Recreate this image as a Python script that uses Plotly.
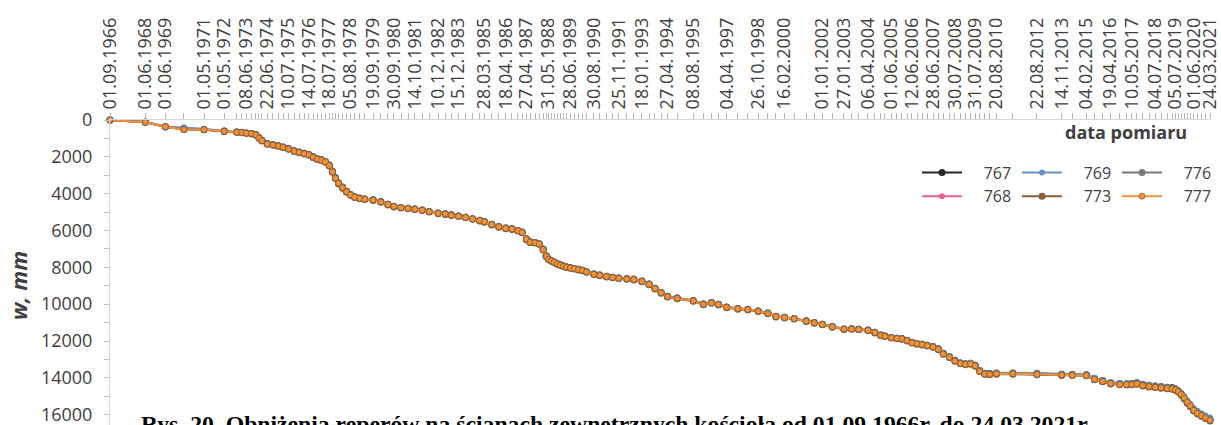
import plotly.graph_objects as go
from datetime import datetime

# Measurement dates (ISO) shared by all benchmarks
DATES = [
    "1966-09-01", "1968-06-01", "1969-06-01", "1970-05-01", "1971-05-01", "1972-05-01",
    "1972-12-15", "1973-03-15", "1973-06-08", "1973-09-12", "1973-11-25", "1974-01-20", "1974-03-15",
    "1974-06-22", "1974-10-01", "1975-01-05", "1975-04-02", "1975-07-10", "1975-10-20",
    "1976-01-20", "1976-04-20", "1976-07-14", "1976-10-01", "1976-12-12", "1977-02-25", "1977-05-08",
    "1977-07-18", "1977-09-12", "1977-11-06", "1978-01-01", "1978-03-15", "1978-05-27", "1978-08-05",
    "1978-10-20", "1979-01-20", "1979-04-20", "1979-09-19",
    "1980-02-06", "1980-06-14", "1980-09-30", "1981-02-06", "1981-06-14", "1981-10-14", "1982-02-24",
    "1982-07-01", "1982-12-10", "1983-04-20", "1983-08-08", "1983-12-15", "1984-04-20", "1984-08-25",
    "1985-01-02", "1985-03-28", "1985-08-08", "1985-12-12", "1986-04-18", "1986-08-08", "1986-11-25",
    "1987-02-08", "1987-04-27", "1987-07-02", "1987-10-01", "1987-12-15", "1988-02-25", "1988-04-20",
    "1988-05-31", "1988-07-20", "1988-09-12", "1988-11-06", "1989-01-02", "1989-02-25", "1989-04-20",
    "1989-06-28", "1989-09-12", "1989-11-25",
    "1990-02-06", "1990-04-20", "1990-08-30", "1990-12-15", "1991-04-20", "1991-08-08", "1991-11-25",
    "1992-04-20", "1992-08-25", "1993-01-18", "1993-05-27", "1993-09-12", "1994-01-02", "1994-04-27",
    "1994-10-20", "1995-08-08",
    "1996-02-06", "1996-07-01", "1996-11-06", "1997-04-04", "1997-10-20", "1998-04-20", "1998-10-26",
    "1999-04-20", "1999-09-12", "2000-02-16", "2000-08-08",
    "2001-03-15", "2001-08-08", "2002-01-01", "2002-07-01", "2003-01-27", "2003-06-14", "2003-10-20",
    "2004-04-06", "2004-08-08", "2004-11-25", "2005-02-06", "2005-06-01",
    "2005-09-12", "2005-12-12", "2006-03-15", "2006-06-12", "2006-09-12", "2006-12-12", "2007-03-15",
    "2007-06-28", "2007-10-01", "2008-01-01", "2008-04-20", "2008-07-30", "2008-11-06", "2009-02-06",
    "2009-05-08", "2009-07-31", "2009-10-20", "2010-01-20", "2010-04-20", "2010-08-20",
    "2011-06-14", "2012-08-22", "2013-11-14", "2014-05-27", "2015-02-04", "2015-07-01", "2015-11-25",
    "2016-04-19", "2016-10-01", "2017-02-06", "2017-05-10", "2017-08-08",
    "2017-11-25", "2018-03-15", "2018-07-04", "2018-10-20", "2019-02-06", "2019-05-08", "2019-07-05",
    "2019-08-25", "2019-10-20", "2019-12-12", "2020-02-06", "2020-04-01", "2020-06-01", "2020-08-08",
    "2020-10-20", "2021-01-02", "2021-03-24",
]

# Subsidence w [mm] of each benchmark
W_767 = [
    0, 110, 360, 480, 510, 600,
    650, 670, 700, 735, 790, 950, 1100, 1280, 1340, 1395, 1465, 1550, 1670,
    1740, 1810, 1870, 2000, 2100, 2165, 2250, 2440, 2780, 3120, 3410, 3640, 3870, 4040, 4170, 4240, 4285, 4330,
    4430, 4570, 4680, 4745, 4785, 4830, 4885, 4965, 5055, 5095, 5150, 5210, 5275, 5355,
    5445, 5515, 5660, 5785, 5865, 5905, 5995, 6085, 6450, 6610, 6650, 6715, 7000, 7370, 7540, 7635, 7705, 7795,
    7865, 7925, 7970, 8015, 8060, 8105,
    8155, 8235, 8355, 8415, 8485, 8535, 8575, 8615, 8650, 8745, 8900, 9130, 9360, 9575, 9665, 9805,
    9990, 9915, 10005, 10155, 10235, 10275, 10365, 10485, 10650, 10715, 10775,
    10905, 10995, 11085, 11215, 11345, 11330, 11355, 11405, 11525, 11670, 11725, 11805,
    11845, 11870, 11960, 12070, 12130, 12170, 12230, 12300, 12425, 12670, 12850, 13050, 13190, 13240,
    13210, 13320, 13600, 13750, 13770, 13740,
    13740, 13770, 13810, 13815, 13830, 14030, 14140, 14260, 14310, 14315, 14300, 14270,
    14350, 14400, 14440, 14470, 14505, 14530, 14590, 14700, 14880, 15100, 15340, 15530, 15760, 15910,
    16030, 16140, 16260,
]
W_768 = [
    0, 120, 370, 500, 520, 610,
    660, 680, 715, 745, 800, 970, 1120, 1300, 1360, 1410, 1480, 1570, 1690,
    1760, 1830, 1890, 2020, 2120, 2185, 2270, 2470, 2810, 3150, 3440, 3670, 3900, 4070, 4190, 4260, 4300, 4345,
    4450, 4590, 4700, 4760, 4800, 4845, 4900, 4980, 5070, 5110, 5165, 5225, 5290, 5370,
    5460, 5530, 5675, 5800, 5880, 5920, 6010, 6100, 6480, 6630, 6665, 6730, 7030, 7400, 7560, 7650, 7720, 7810,
    7880, 7940, 7985, 8030, 8075, 8120,
    8170, 8250, 8370, 8430, 8500, 8550, 8590, 8610, 8590, 8760, 8920, 9150, 9380, 9590, 9680, 9820,
    10010, 9930, 10020, 10170, 10250, 10290, 10380, 10500, 10670, 10730, 10790,
    10920, 11010, 11100, 11230, 11360, 11345, 11370, 11420, 11540, 11690, 11740, 11820,
    11860, 11885, 11980, 12090, 12150, 12190, 12250, 12320, 12450, 12700, 12880, 13080, 13220, 13270,
    13240, 13350, 13640, 13790, 13810, 13780,
    13780, 13810, 13850, 13855, 13870, 14080, 14190, 14310, 14360, 14365, 14360, 14330,
    14420, 14470, 14510, 14540, 14575, 14600, 14650, 14740, 14900, 15100, 15330, 15520, 15760, 15920,
    16050, 16170, 16300,
]
W_769 = [
    0, 110, 350, 400, 470, 600,
    655, 675, 710, 740, 795, 965, 1115, 1295, 1355, 1405, 1475, 1565, 1685,
    1755, 1825, 1885, 2015, 2115, 2180, 2265, 2465, 2805, 3145, 3435, 3665, 3895, 4065, 4185, 4255, 4295, 4340,
    4445, 4585, 4695, 4755, 4795, 4840, 4895, 4975, 5065, 5105, 5160, 5220, 5285, 5365,
    5455, 5525, 5670, 5795, 5875, 5915, 6005, 6095, 6475, 6625, 6660, 6725, 7025, 7395, 7555, 7645, 7715, 7805,
    7875, 7935, 7980, 8025, 8070, 8115,
    8165, 8245, 8365, 8425, 8495, 8545, 8585, 8625, 8660, 8755, 8915, 9145, 9375, 9585, 9675, 9815,
    10000, 9920, 10010, 10160, 10240, 10280, 10370, 10490, 10660, 10720, 10780,
    10910, 11000, 11090, 11220, 11350, 11335, 11360, 11410, 11525, 11675, 11725, 11800,
    11840, 11860, 11950, 12060, 12110, 12150, 12200, 12270, 12390, 12640, 12820, 13020, 13160, 13210,
    13180, 13290, 13580, 13730, 13750, 13720,
    13720, 13750, 13790, 13790, 13800, 14000, 14110, 14230, 14280, 14285, 14280, 14250,
    14340, 14390, 14430, 14460, 14495, 14520, 14570, 14660, 14810, 15000, 15220, 15410, 15640, 15790,
    15920, 16040, 16150,
]
W_773 = [
    0, 125, 380, 520, 530, 620,
    670, 690, 725, 760, 815, 990, 1140, 1320, 1375, 1425, 1495, 1590, 1710,
    1780, 1850, 1910, 2045, 2140, 2205, 2295, 2500, 2840, 3180, 3470, 3700, 3925, 4090, 4210, 4280, 4320, 4365,
    4470, 4610, 4720, 4780, 4820, 4865, 4920, 5000, 5090, 5130, 5185, 5245, 5310, 5390,
    5480, 5550, 5695, 5820, 5900, 5940, 6030, 6120, 6500, 6650, 6685, 6750, 7055, 7425, 7580, 7670, 7740, 7830,
    7900, 7960, 8005, 8050, 8095, 8140,
    8190, 8270, 8390, 8450, 8520, 8570, 8610, 8650, 8685, 8780, 8940, 9170, 9400, 9610, 9700, 9840,
    10030, 9950, 10040, 10190, 10270, 10310, 10400, 10520, 10690, 10750, 10810,
    10940, 11030, 11120, 11250, 11380, 11365, 11390, 11440, 11560, 11710, 11760, 11840,
    11880, 11905, 12000, 12110, 12170, 12210, 12270, 12340, 12470, 12720, 12900, 13100, 13240, 13290,
    13260, 13370, 13660, 13810, 13830, 13800,
    13800, 13830, 13870, 13875, 13890, 14100, 14210, 14330, 14380, 14385, 14380, 14350,
    14440, 14490, 14530, 14560, 14595, 14620, 14670, 14770, 14940, 15150, 15380, 15570, 15800, 15960,
    16090, 16210, 16340,
]
W_776 = [
    0, 115, 365, 500, 515, 605,
    655, 675, 710, 740, 795, 960, 1110, 1290, 1350, 1400, 1470, 1560, 1680,
    1750, 1820, 1880, 2010, 2110, 2175, 2260, 2455, 2795, 3135, 3425, 3655, 3885, 4055, 4180, 4250, 4290, 4335,
    4440, 4580, 4690, 4750, 4790, 4835, 4890, 4970, 5060, 5100, 5155, 5215, 5280, 5360,
    5450, 5520, 5665, 5790, 5870, 5910, 6000, 6090, 6465, 6620, 6655, 6720, 7015, 7385, 7550, 7640, 7710, 7800,
    7870, 7930, 7975, 8020, 8065, 8110,
    8160, 8240, 8360, 8420, 8490, 8540, 8580, 8620, 8655, 8750, 8910, 9140, 9370, 9580, 9670, 9810,
    9995, 9920, 10010, 10160, 10240, 10280, 10370, 10490, 10660, 10720, 10780,
    10910, 11000, 11090, 11220, 11350, 11335, 11360, 11410, 11530, 11680, 11730, 11810,
    11850, 11875, 11970, 12080, 12140, 12180, 12240, 12310, 12440, 12690, 12870, 13070, 13210, 13260,
    13230, 13340, 13630, 13780, 13800, 13770,
    13770, 13800, 13840, 13845, 13860, 14060, 14170, 14290, 14340, 14345, 14310, 14300,
    14370, 14420, 14460, 14490, 14525, 14550, 14610, 14720, 14900, 15120, 15360, 15550, 15780, 15930,
    16060, 16180, 16290,
]
W_777 = [
    0, 120, 370, 510, 520, 610,
    660, 680, 715, 745, 800, 970, 1120, 1300, 1360, 1410, 1480, 1570, 1690,
    1760, 1830, 1890, 2020, 2120, 2185, 2270, 2470, 2810, 3150, 3440, 3670, 3900, 4070, 4190, 4260, 4300, 4345,
    4450, 4590, 4700, 4760, 4800, 4845, 4900, 4980, 5070, 5110, 5165, 5225, 5290, 5370,
    5460, 5530, 5675, 5800, 5880, 5920, 6010, 6100, 6480, 6630, 6665, 6730, 7030, 7400, 7560, 7650, 7720, 7810,
    7880, 7940, 7985, 8030, 8075, 8120,
    8170, 8250, 8370, 8430, 8500, 8550, 8590, 8630, 8665, 8760, 8920, 9150, 9380, 9590, 9680, 9820,
    10010, 9930, 10020, 10170, 10250, 10290, 10380, 10500, 10670, 10730, 10790,
    10920, 11010, 11100, 11230, 11360, 11345, 11370, 11420, 11540, 11690, 11740, 11820,
    11860, 11885, 11980, 12090, 12150, 12190, 12250, 12320, 12450, 12700, 12880, 13080, 13220, 13270,
    13240, 13350, 13640, 13790, 13810, 13780,
    13780, 13810, 13850, 13855, 13870, 14080, 14190, 14310, 14360, 14365, 14360, 14330,
    14420, 14470, 14510, 14540, 14575, 14600, 14650, 14740, 14900, 15100, 15330, 15520, 15760, 15920,
    16050, 16170, 16300,
]

# Dates that carry a text label on the time axis
TICK_LABELS = [
    "01.09.1966", "01.06.1968", "01.06.1969", "01.05.1971", "01.05.1972", "08.06.1973", "22.06.1974",
    "10.07.1975", "14.07.1976", "18.07.1977", "05.08.1978", "19.09.1979", "30.09.1980", "14.10.1981",
    "10.12.1982", "15.12.1983", "28.03.1985", "18.04.1986", "27.04.1987", "31.05.1988", "28.06.1989",
    "30.08.1990", "25.11.1991", "18.01.1993", "27.04.1994", "08.08.1995", "04.04.1997", "26.10.1998",
    "16.02.2000", "01.01.2002", "27.01.2003", "06.04.2004", "01.06.2005", "12.06.2006", "28.06.2007",
    "30.07.2008", "31.07.2009", "20.08.2010", "22.08.2012", "14.11.2013", "04.02.2015", "19.04.2016",
    "10.05.2017", "04.07.2018", "05.07.2019", "01.06.2020", "24.03.2021",
]

Y_TICKS = [0, 2000, 4000, 6000, 8000, 10000, 12000, 14000, 16000]

# series: (name, values, colour, marker size, marker rim, legend column)
SERIES = [
    ("767", W_767, "#262626", 7, None, "legend"),
    ("768", W_768, "#e8628c", 6, None, "legend"),
    ("769", W_769, "#6b8fc7", 6, None, "legend2"),
    ("773", W_773, "#8a5d34", 7, None, "legend2"),
    ("776", W_776, "#7a7a7a", 7, None, "legend3"),
    ("777", W_777, "#f0923a", 6, "rgba(105,70,40,0.75)", "legend3"),
]
PAD = "\u00a0" * 4  # gap between the legend key and its label

label_iso = {datetime.strptime(s, "%d.%m.%Y").strftime("%Y-%m-%d"): s for s in TICK_LABELS}
tick_text = [label_iso.get(d, "") for d in DATES]

W, H = 1221, 425
ML, MR, MT, MB = 110, 11, 120, 0
PW, PH = W - ML - MR, H - MT - MB


def px_x(x):
    return (x - ML) / PW


def px_y(y):
    return (H - MB - y) / PH


TXT = "#404040"
FONT = "Open Sans"

fig = go.Figure()
for name, vals, col, msize, rim, leg in SERIES:
    marker = dict(color=col, size=msize)
    if rim:
        marker["line"] = dict(color=rim, width=0.8)
    fig.add_trace(go.Scatter(
        x=DATES, y=vals, name=PAD + name, mode="lines+markers",
        line=dict(color=col, width=2),
        marker=marker,
        legend=leg,
        cliponaxis=False,
    ))

legend_common = dict(
    orientation="v", xanchor="left", yanchor="middle", y=px_y(184.5),
    font=dict(size=16, color=TXT, family=FONT), bgcolor="rgba(0,0,0,0)",
    itemwidth=40, traceorder="normal", borderwidth=0, tracegroupgap=0,
)

fig.update_layout(
    width=W, height=H,
    margin=dict(l=ML, r=MR, t=MT, b=MB, autoexpand=False),
    paper_bgcolor="white", plot_bgcolor="white",
    font=dict(family=FONT, color=TXT, size=16),
    xaxis=dict(
        type="date", side="top",
        range=[DATES[0], DATES[-1]],
        tickmode="array", tickvals=DATES, ticktext=tick_text,
        tickangle=-90, tickfont=dict(size=18, color=TXT, family=FONT),
        ticks="outside", ticklen=6, tickcolor="#b4b4b4", tickwidth=1,
        showline=True, linecolor="#d9d9d9", linewidth=1,
        showgrid=False, zeroline=False, automargin=False,
    ),
    yaxis=dict(
        range=[16560, 0],
        tickmode="array", tickvals=Y_TICKS, ticktext=[str(v) for v in Y_TICKS],
        tickfont=dict(size=18, color=TXT, family=FONT),
        ticks="outside", ticklen=5, tickcolor="#bfbfbf",
        ticklabelstandoff=8, ticklabeloverflow="allow",
        minor=dict(dtick=1000, ticks="outside", ticklen=5, tickcolor="#bfbfbf"),
        showline=True, linecolor="#d9d9d9", linewidth=1,
        showgrid=False, zeroline=False, automargin=False,
    ),
    legend=dict(x=px_x(917), **legend_common),
    legend2=dict(x=px_x(1017), **legend_common),
    legend3=dict(x=px_x(1117), **legend_common),
    showlegend=True,
)

fig.add_annotation(
    text="<b>data pomiaru</b>", xref="paper", yref="paper",
    x=px_x(1189), y=px_y(132), xanchor="right", yanchor="middle",
    showarrow=False, font=dict(size=18, color=TXT, family=FONT),
)
fig.add_annotation(
    text="<b><i>w, mm</i></b>", xref="paper", yref="paper",
    x=px_x(18), y=px_y(286), xanchor="center", yanchor="middle", textangle=-90,
    showarrow=False, font=dict(size=22, color=TXT, family=FONT),
)
fig.add_annotation(
    text="<b>Rys. 20. Obniżenia reperów na ścianach zewnętrznych kościoła od 01.09.1966r. do 24.03.2021r.</b>",
    xref="paper", yref="paper",
    x=px_x(139), y=px_y(409), xanchor="left", yanchor="top",
    showarrow=False, font=dict(size=23.7, color="black", family="Liberation Serif"),
)

fig.write_html("out.html")
